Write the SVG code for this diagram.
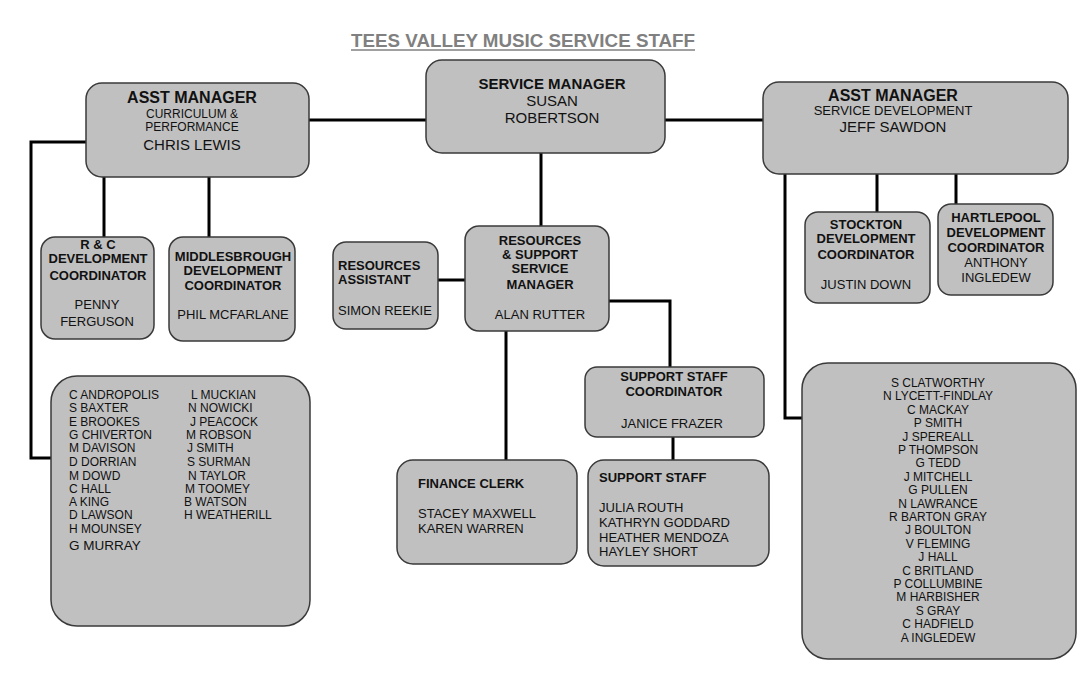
<svg xmlns="http://www.w3.org/2000/svg" width="1079" height="691" viewBox="0 0 1079 691">
<style>
.box{fill:#c0c0c0;stroke:#3a3a3a;stroke-width:1.5}
.ln{stroke:#000;stroke-width:3;fill:none}
text{font-family:"Liberation Sans",Arial,sans-serif;fill:#111}
.b{font-weight:bold;font-size:13px}
.bh{font-weight:bold;font-size:15px}
.bm{font-weight:bold;font-size:16px}
.r{font-size:13px}
.rl{font-size:15px}
.s{font-size:12px}
.c{text-anchor:middle}
</style>
<rect width="1079" height="691" fill="#fff"/>
<g id="title">
<text x="523" y="47" text-anchor="middle" font-weight="bold" font-size="18" textLength="344" lengthAdjust="spacingAndGlyphs" style="fill:#808080">TEES VALLEY MUSIC SERVICE STAFF</text>
<line x1="351" y1="50" x2="695" y2="50" stroke="#808080" stroke-width="1.5"/>
</g>
<g id="connectors">
<path class="ln" d="M309 120H426M665 120H763"/>
<path class="ln" d="M104 177V238M209 177V238"/>
<path class="ln" d="M86 142H31V458H51"/>
<path class="ln" d="M541 153V226"/>
<path class="ln" d="M438 280H466"/>
<path class="ln" d="M609 301H670V367"/>
<path class="ln" d="M506 331V460M673 437V460"/>
<path class="ln" d="M785 174V418H803"/>
<path class="ln" d="M877 174V212M956 174V204"/>
</g>
<g id="service-manager">
<rect class="box" x="426" y="60" width="239" height="93" rx="16"/>
<text class="bh c" x="552" y="89">SERVICE MANAGER</text>
<text class="rl c" x="552" y="106">SUSAN</text>
<text class="rl c" x="552" y="123">ROBERTSON</text>
</g>
<g id="asst-manager-curriculum">
<rect class="box" x="86" y="83" width="223" height="94" rx="16"/>
<text class="bm c" x="192" y="103">ASST MANAGER</text>
<text class="s c" x="192" y="118">CURRICULUM &amp;</text>
<text class="s c" x="192" y="131">PERFORMANCE</text>
<text class="rl c" x="192" y="150">CHRIS LEWIS</text>
</g>
<g id="asst-manager-development">
<rect class="box" x="763" y="82" width="305" height="92" rx="16"/>
<text class="bm c" x="893" y="101">ASST MANAGER</text>
<text class="r c" x="893" y="115">SERVICE DEVELOPMENT</text>
<text class="rl c" x="893" y="132">JEFF SAWDON</text>
</g>
<g id="rc-coordinator">
<rect class="box" x="41" y="237" width="113" height="102" rx="14"/>
<text class="b c" x="98" y="249">R &amp; C</text>
<text class="b c" x="98" y="263">DEVELOPMENT</text>
<text class="b c" x="98" y="280">COORDINATOR</text>
<text class="r c" x="97" y="309">PENNY</text>
<text class="r c" x="97" y="326">FERGUSON</text>
</g>
<g id="middlesbrough-coordinator">
<rect class="box" x="169" y="237" width="126" height="104" rx="14"/>
<text class="b c" x="233" y="261">MIDDLESBROUGH</text>
<text class="b c" x="233" y="275">DEVELOPMENT</text>
<text class="b c" x="233" y="290">COORDINATOR</text>
<text class="r c" x="233" y="319">PHIL MCFARLANE</text>
</g>
<g id="resources-assistant">
<rect class="box" x="333" y="242" width="105" height="87" rx="13"/>
<text class="b" x="338" y="270">RESOURCES</text>
<text class="b" x="338" y="284">ASSISTANT</text>
<text class="r" x="338" y="315">SIMON REEKIE</text>
</g>
<g id="resources-support-manager">
<rect class="box" x="465" y="226" width="144" height="105" rx="14"/>
<text class="b c" x="540" y="245">RESOURCES</text>
<text class="b c" x="540" y="259">&amp; SUPPORT</text>
<text class="b c" x="540" y="273">SERVICE</text>
<text class="b c" x="540" y="289">MANAGER</text>
<text class="r c" x="540" y="319">ALAN RUTTER</text>
</g>
<g id="support-staff-coordinator">
<rect class="box" x="585" y="367" width="179" height="70" rx="12"/>
<text class="b c" x="674" y="381">SUPPORT STAFF</text>
<text class="b c" x="674" y="396">COORDINATOR</text>
<text class="r c" x="672" y="428">JANICE FRAZER</text>
</g>
<g id="finance-clerk">
<rect class="box" x="397" y="460" width="180" height="104" rx="16"/>
<text class="b" x="418" y="488">FINANCE CLERK</text>
<text class="r" x="418" y="518">STACEY MAXWELL</text>
<text class="r" x="418" y="533">KAREN WARREN</text>
</g>
<g id="support-staff">
<rect class="box" x="588" y="460" width="181" height="106" rx="16"/>
<text class="b" x="599" y="482">SUPPORT STAFF</text>
<text class="r" x="599" y="512">JULIA ROUTH</text>
<text class="r" x="599" y="527">KATHRYN GODDARD</text>
<text class="r" x="599" y="542">HEATHER MENDOZA</text>
<text class="r" x="599" y="556">HAYLEY SHORT</text>
</g>
<g id="stockton-coordinator">
<rect class="box" x="805" y="212" width="125" height="91" rx="13"/>
<text class="b c" x="866" y="229">STOCKTON</text>
<text class="b c" x="866" y="243">DEVELOPMENT</text>
<text class="b c" x="866" y="259">COORDINATOR</text>
<text class="r c" x="866" y="289">JUSTIN DOWN</text>
</g>
<g id="hartlepool-coordinator">
<rect class="box" x="938" y="204" width="115" height="91" rx="13"/>
<text class="b c" x="996" y="222">HARTLEPOOL</text>
<text class="b c" x="996" y="237">DEVELOPMENT</text>
<text class="b c" x="996" y="252">COORDINATOR</text>
<text class="r c" x="996" y="267">ANTHONY</text>
<text class="r c" x="996" y="282">INGLEDEW</text>
</g>
<g id="tutors-curriculum">
<rect class="box" x="51" y="376" width="259" height="250" rx="26"/>
<text class="s" x="69" y="399">C ANDROPOLIS</text>
<text class="s" x="69" y="412">S BAXTER</text>
<text class="s" x="69" y="426">E BROOKES</text>
<text class="s" x="69" y="439">G CHIVERTON</text>
<text class="s" x="69" y="452">M DAVISON</text>
<text class="s" x="69" y="466">D DORRIAN</text>
<text class="s" x="69" y="480">M DOWD</text>
<text class="s" x="69" y="493">C HALL</text>
<text class="s" x="69" y="506">A KING</text>
<text class="s" x="69" y="519">D LAWSON</text>
<text class="s" x="69" y="533">H MOUNSEY</text>
<text x="69" y="550" font-size="13.5">G MURRAY</text>
<text class="s" x="191" y="399">L MUCKIAN</text>
<text class="s" x="188" y="412">N NOWICKI</text>
<text class="s" x="190" y="426">J PEACOCK</text>
<text class="s" x="186" y="439">M ROBSON</text>
<text class="s" x="187" y="452">J SMITH</text>
<text class="s" x="187" y="466">S SURMAN</text>
<text class="s" x="188" y="480">N TAYLOR</text>
<text class="s" x="185" y="493">M TOOMEY</text>
<text class="s" x="184" y="506">B WATSON</text>
<text class="s" x="184" y="519">H WEATHERILL</text>
</g>
<g id="tutors-development">
<rect class="box" x="802" y="363" width="274" height="296" rx="26"/>
<text class="s c" x="938" y="387">S CLATWORTHY</text>
<text class="s c" x="938" y="400">N LYCETT-FINDLAY</text>
<text class="s c" x="938" y="414">C MACKAY</text>
<text class="s c" x="938" y="427">P SMITH</text>
<text class="s c" x="938" y="441">J SPEREALL</text>
<text class="s c" x="938" y="454">P THOMPSON</text>
<text class="s c" x="938" y="467">G TEDD</text>
<text class="s c" x="938" y="481">J MITCHELL</text>
<text class="s c" x="938" y="494">G PULLEN</text>
<text class="s c" x="938" y="508">N LAWRANCE</text>
<text class="s c" x="938" y="521">R BARTON GRAY</text>
<text class="s c" x="938" y="534">J BOULTON</text>
<text class="s c" x="938" y="548">V FLEMING</text>
<text class="s c" x="938" y="561">J HALL</text>
<text class="s c" x="938" y="575">C BRITLAND</text>
<text class="s c" x="938" y="588">P COLLUMBINE</text>
<text class="s c" x="938" y="601">M HARBISHER</text>
<text class="s c" x="938" y="615">S GRAY</text>
<text class="s c" x="938" y="628">C HADFIELD</text>
<text class="s c" x="938" y="642">A INGLEDEW</text>
</g>
</svg>
